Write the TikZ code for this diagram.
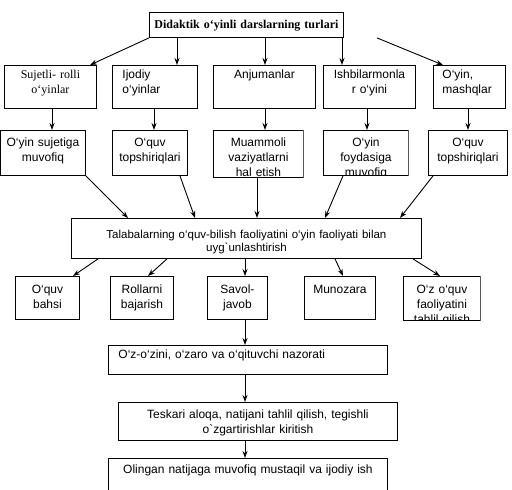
\documentclass[tikz,border=0pt]{standalone}
\usepackage{fontspec}
\setmainfont{Liberation Serif}
\newfontfamily\arial{Liberation Sans}
\usetikzlibrary{arrows.meta}

\begin{document}
\begin{tikzpicture}[x=1pt,y=-1pt,>={Stealth[length=7pt,width=5pt]},line width=0.9pt,
    quti/.style={draw, inner sep=0pt, anchor=north west, align=center,
      font=\arial\fontsize{12}{15}\selectfont}]
    \useasboundingbox (0,0) rectangle (512,490);
    \clip (0,0) rectangle (512,490);

    % Sarlavha
    \node[quti, font=\bfseries\fontsize{12}{14}\selectfont, text width=194pt, text height=16pt, text depth=9pt] (t) at (149,12) {Didaktik o‘yinli darslarning turlari};

    % O'yin turlari
    \node[quti, font=\fontsize{12}{15}\selectfont, text width=92pt, text height=13pt, text depth=30pt] (s1) at (4,65) {Sujetli- rolli\\o‘yinlar};
    \node[quti, align=left, inner xsep=10pt, text width=65pt, text height=13pt, text depth=30pt] (s2) at (112,65) {Ijodiy\\o‘yinlar};
    \node[quti, text width=102pt, text height=13pt, text depth=30pt] (s3) at (213,65) {Anjumanlar};
    \node[quti, text width=92pt, text height=13pt, text depth=30pt] (s4) at (323,65) {Ishbilarmonla\\r o‘yini};
    \node[quti, align=left, inner xsep=9pt, text width=54pt, text height=13pt, text depth=30pt] (s5) at (433,65) {O‘yin,\\mashqlar};

    % Topshiriqlar
    \node[quti, text width=85pt, text height=16pt, text depth=29pt] (r1) at (0,130) {O‘yin sujetiga\\muvofiq};
    \node[quti, text width=75pt, text height=16pt, text depth=29pt] (r2) at (112,130) {O‘quv\\topshiriqlari};
    \begin{scope}
      \clip (212.5,130) rectangle (303.5,177.5);
      \node[quti, text width=90pt, text height=16pt, text depth=31pt] (r3) at (213,130) {Muammoli\\vaziyatlarni\\hal etish};
    \end{scope}
    \begin{scope}
      \clip (322.5,129) rectangle (408.5,175.5);
      \node[quti, text width=85pt, text height=16pt, text depth=29pt] (r4) at (323,130) {O‘yin\\foydasiga\\muvofiq};
    \end{scope}
    \node[quti, text width=79pt, text height=16pt, text depth=29pt] (r5) at (428,130) {O‘quv\\topshiriqlari};

    % Umumiy blok
    \node[quti, font=\arial\fontsize{11.5}{13.5}\selectfont, text width=350pt, text height=20pt, text depth=20pt] (b) at (71,218) {Talabalarning o‘quv-bilish faoliyatini o‘yin faoliyati bilan\hspace*{12pt}\\uyg`unlashtirish};

    % Shakllar
    \node[quti, text width=64pt, text height=17pt, text depth=26pt] (q1) at (15,276) {O‘quv\\bahsi};
    \node[quti, text width=63pt, text height=17pt, text depth=26pt] (q2) at (110,276) {Rollarni\\bajarish};
    \node[quti, text width=60pt, text height=17pt, text depth=26pt] (q3) at (207,276) {Savol-\\javob};
    \node[quti, text width=71pt, text height=17pt, text depth=26pt] (q4) at (304,276) {Munozara};
    \begin{scope}
      \clip (402.5,275) rectangle (480.5,320.5);
      \node[quti, text width=77pt, text height=17pt, text depth=27pt] (q5) at (403,276) {O‘z o‘quv\\faoliyatini\\tahlil qilish};
    \end{scope}

    % Pastki bosqichlar
    \node[quti, align=left, inner xsep=10pt, text width=259pt, text height=13pt, text depth=16pt] (n) at (108,345) {O‘z-o‘zini, o‘zaro va o‘qituvchi nazorati};
    \node[quti, text width=279pt, text height=16pt, text depth=22pt] (k) at (118,402) {Teskari aloqa, natijani tahlil qilish, tegishli\hspace*{34pt}\\o`zgartirishlar kiritish};
    \node[quti, text width=279pt, text height=15pt, text depth=40pt] (m) at (108,458) {Olingan natijaga muvofiq mustaqil va ijodiy ish};

    % Strelkalar
    \draw[->] (t.south west) -- (s1.north -| 90,0);
    \draw[->] (t.south -| 177,0) -- (s2.north -| 177,0);
    \draw[->] (t.south -| 265,0) -- (s3.north -| 265,0);
    \draw[->] (t.south -| 342,0) -- (s4.north -| 342,0);
    \draw[->] (t.south -| 377,0) -- (s5.north -| 443,0);

    \draw[->] (s1.south -| 52,0) -- (r1.north -| 52,0);
    \draw[->] (s2.south -| 154,0) -- (r2.north -| 154,0);
    \draw[->] (s3.south -| 265,0) -- (r3.north -| 265,0);
    \draw[->] (s4.south -| 367,0) -- (r4.north -| 367,0);
    \draw[->] (s5.south -| 468,0) -- (r5.north -| 468,0);

    \draw[->] (r1.south east) -- (b.north -| 128,0);
    \draw[->] (r2.south -| 180,0) -- (b.north -| 195,0);
    \draw[->] (r3.south -| 257,0) -- (b.north -| 257,0);
    \draw[->] (r4.south -| 343,0) -- (b.north -| 325,0);
    \draw[->] (r5.south -| 433,0) -- (b.north -| 400,0);

    \draw[->] (b.south -| 98,0) -- (q1.north -| 73,0);
    \draw[->] (b.south -| 167,0) -- (q2.north -| 148,0);
    \draw[->] (b.south -| 245,0) -- (q3.north -| 245,0);
    \draw[->] (b.south -| 335,0) -- (q4.north -| 343,0);
    \draw[->] (b.south -| 413,0) -- (q5.north -| 440,0);

    \draw[->] (q3.south -| 245,0) -- (n.north -| 245,0);
    \draw[->] (n.south -| 245,0) -- (k.north -| 245,0);
    \draw[->] (k.south -| 245,0) -- (m.north -| 245,0);
\end{tikzpicture}
\end{document}
